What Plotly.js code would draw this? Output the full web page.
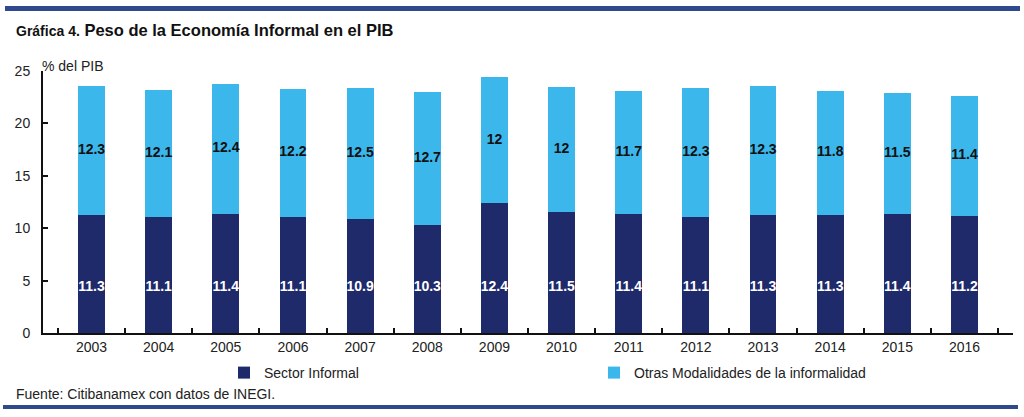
<!DOCTYPE html>
<html><head><meta charset="utf-8">
<script src="https://cdn.plot.ly/plotly-3.0.1.min.js"></script>
<style>html,body{margin:0;padding:0;background:#fff}#c{width:1024px;height:417px}</style>
</head><body><div id="c"></div>
<script>
const years = ["2003","2004","2005","2006","2007","2008","2009","2010","2011","2012","2013","2014","2015","2016"];
const sectorInformal = [11.3,11.1,11.4,11.1,10.9,10.3,12.4,11.5,11.4,11.1,11.3,11.3,11.4,11.2];
const otrasModalidades = [12.3,12.1,12.4,12.2,12.5,12.7,12,12,11.7,12.3,12.3,11.8,11.5,11.4];
const yTicks = [0,5,10,15,20,25];

const W=1024,H=417,L=43,R=11,T=71,B=84;
const pw=W-L-R, ph=H-T-B;
const px=x=>(x-L)/pw, py=y=>(H-B-y)/ph;
const darkLabelY = 4.3;

const navy='#1F2A6B', light='#3CB7EC';
const lblFont={family:'Liberation Sans, Arial',size:14,weight:'bold'};
const traces=[
 {type:'bar',name:'Sector Informal',x:years,y:sectorInformal,marker:{color:navy},width:0.4,hoverinfo:'none'},
 {type:'bar',name:'Otras Modalidades de la informalidad',x:years,y:otrasModalidades,marker:{color:light},width:0.4,hoverinfo:'none'},
 {type:'scatter',mode:'text',x:years,y:years.map(()=>darkLabelY),text:sectorInformal.map(String),
  textfont:Object.assign({color:'#fff'},lblFont),showlegend:false,hoverinfo:'none'},
 {type:'scatter',mode:'text',x:years,y:sectorInformal.map((v,i)=>v+otrasModalidades[i]/2),text:otrasModalidades.map(String),
  textfont:Object.assign({color:'#111'},lblFont),showlegend:false,hoverinfo:'none'}
];
const layout={
 width:W,height:H,margin:{l:L,r:R,t:T,b:B},barmode:'stack',
 paper_bgcolor:'#fff',plot_bgcolor:'#fff',
 font:{family:'Liberation Sans, Arial',size:14,color:'#222'},
 xaxis:{type:'category',tickson:'boundaries',ticks:'inside',ticklen:5,tickwidth:2,tickcolor:'#111',
  showline:true,linecolor:'#111',linewidth:2,showgrid:false,tickfont:{size:14,color:'#222'},fixedrange:true},
 yaxis:{range:[0,25],tickvals:yTicks,ticks:'inside',ticklen:5,tickwidth:2,tickcolor:'#111',
  showline:true,linecolor:'#111',linewidth:2,showgrid:false,zeroline:false,tickfont:{size:14,color:'#222'},
  ticklabelstandoff:8,fixedrange:true},
 showlegend:true,
 legend:{orientation:'h',x:px(224),xanchor:'left',y:py(373),yanchor:'middle',entrywidth:325,entrywidthmode:'pixels',
  itemwidth:30,font:{size:14,color:'#222'},traceorder:'normal',bgcolor:'rgba(0,0,0,0)'},
 annotations:[
  {xref:'paper',yref:'paper',x:px(14),y:py(30),xanchor:'left',yanchor:'middle',showarrow:false,
   text:'<b><span style="font-size:14px">Gráfica 4.</span> Peso de la Economía Informal en el PIB</b>',
   font:{size:16.5,color:'#111'}},
  {xref:'paper',yref:'paper',x:px(40),y:py(66),xanchor:'left',yanchor:'middle',showarrow:false,
   text:'% del PIB',font:{size:14,color:'#222'}},
  {xref:'paper',yref:'paper',x:px(14),y:py(394),xanchor:'left',yanchor:'middle',showarrow:false,
   text:'Fuente: Citibanamex con datos de INEGI.',font:{size:14,color:'#222'}}
 ],
 shapes:[
  {type:'rect',xref:'paper',yref:'paper',x0:px(5),x1:px(1020),y0:py(6),y1:py(11),fillcolor:'#2F4A8C',line:{width:0}},
  {type:'rect',xref:'paper',yref:'paper',x0:px(3),x1:px(1018),y0:py(405),y1:py(409),fillcolor:'#2F4A8C',line:{width:0}}
 ]
};
Plotly.newPlot('c',traces,layout,{displayModeBar:false,staticPlot:true});
</script></body></html>
